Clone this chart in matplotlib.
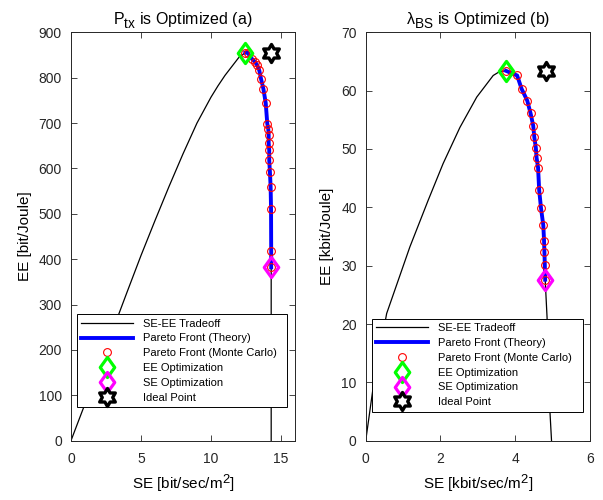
import matplotlib
matplotlib.use('Agg')
import numpy as np
import matplotlib.pyplot as plt
from matplotlib.path import Path

try:
    import matplotlib._mathtext as _mt
    _mt.SHRINK_FACTOR = 0.85
    _mt.FontConstantsBase.sub1 = 0.55
    _mt.FontConstantsBase.sub2 = 0.75
except Exception:
    pass

plt.rcParams['font.family'] = ['Liberation Sans', 'DejaVu Sans']
plt.rcParams['mathtext.fontset'] = 'custom'
plt.rcParams['mathtext.rm'] = 'Liberation Sans'
plt.rcParams['mathtext.it'] = 'Liberation Sans:italic'
plt.rcParams['mathtext.default'] = 'rm'

# ---------------- (a) P_tx optimized ----------------
se_a_curve = [0, 1, 2, 3, 4, 5, 6, 7, 8, 9, 10, 10.5, 11, 11.5, 12, 12.45,
              12.62, 12.91, 13.14, 13.31, 13.45, 13.57, 13.74, 13.91, 14.02,
              14.09, 14.12, 14.16, 14.21, 14.26, 14.29, 14.3, 14.3, 14.3]
ee_a_curve = [0, 81, 163, 245, 327, 408, 485, 560, 632, 700, 757, 782, 805,
              825, 845, 855, 853, 842, 835, 827, 816, 798, 776, 744, 699,
              688, 673, 640, 592, 559, 510, 419, 382, 0]
se_a_front = [12.45, 12.62, 12.91, 13.14, 13.31, 13.45, 13.57, 13.74, 13.91,
              14.02, 14.09, 14.12, 14.12, 14.16, 14.16, 14.21, 14.26, 14.29,
              14.3, 14.3]
ee_a_front = [855, 855, 842, 835, 827, 816, 798, 776, 744, 699, 688, 673,
              656, 640, 618, 592, 559, 510, 419, 382]
se_a_mc = se_a_front
ee_a_mc = ee_a_front
ee_opt_a = (12.45, 855)
se_opt_a = (14.3, 382)
ideal_a = (14.3, 855)

# ---------------- (b) lambda_BS optimized ----------------
se_b_curve = [0, 0.2, 0.56, 1.18, 1.67, 2.07, 2.52, 2.97, 3.41, 3.59, 3.75,
              4.05, 4.17, 4.32, 4.41, 4.48, 4.51, 4.55, 4.57, 4.61, 4.64,
              4.69, 4.75, 4.77, 4.78, 4.79, 4.80, 4.85, 4.93, 4.97]
ee_b_curve = [0, 9.2, 21.8, 33.2, 41.2, 47.5, 53.7, 58.9, 62.6, 63.3, 63.4,
              62.6, 60.3, 58.3, 56.1, 54.0, 52.0, 50.2, 48.5, 46.8, 42.9,
              39.8, 36.9, 34.3, 32.3, 30.2, 27.6, 21.2, 4.7, 0]
se_b_front = [3.75, 4.05, 4.17, 4.32, 4.41, 4.48, 4.51, 4.55, 4.57, 4.61,
              4.64, 4.69, 4.75, 4.77, 4.78, 4.79, 4.80]
ee_b_front = [63.4, 62.6, 60.3, 58.3, 56.1, 54.0, 52.0, 50.2, 48.5, 46.8,
              42.9, 39.8, 36.9, 34.3, 32.3, 30.2, 27.6]
se_b_mc = se_b_front
ee_b_mc = ee_b_front
ee_opt_b = (3.75, 63.4)
se_opt_b = (4.80, 27.6)
ideal_b = (4.82, 63.3)

labels = ['SE-EE Tradeoff', 'Pareto Front (Theory)', 'Pareto Front (Monte Carlo)',
          'EE Optimization', 'SE Optimization', 'Ideal Point']

# marker shapes
diamond = Path([(0, 1), (0.72, 0), (0, -1), (-0.72, 0), (0, 1)],
               [Path.MOVETO, Path.LINETO, Path.LINETO, Path.LINETO, Path.CLOSEPOLY])
_ang = np.deg2rad(90 + 30 * np.arange(12))
_rad = np.where(np.arange(12) % 2 == 0, 1.0, 1 / np.sqrt(3))
_verts = list(zip(_rad * np.cos(_ang), _rad * np.sin(_ang))) + [(0, 1)]
hexagram = Path(_verts, [Path.MOVETO] + [Path.LINETO] * 11 + [Path.CLOSEPOLY])

fig = plt.figure(figsize=(6.03, 5.0), dpi=100)
axA = fig.add_axes([0.1177, 0.1186, 0.3715, 0.8168])
axB = fig.add_axes([0.6065, 0.1186, 0.3720, 0.8168])


def draw(ax, se_c, ee_c, se_f, ee_f, se_m, ee_m, eeopt, seopt, ideal):
    h1, = ax.plot(se_c, ee_c, color='black', lw=0.9)
    h2, = ax.plot(se_f, ee_f, color='#0000ff', lw=2.8)
    h3, = ax.plot(se_m, ee_m, ls='none', marker='o', ms=5.6, mfc='none',
                  mec='#ff0000', mew=0.8)
    h4, = ax.plot([eeopt[0]], [eeopt[1]], ls='none', marker=diamond, ms=14.5,
                  mfc='none', mec='#00ff00', mew=2.3)
    h5, = ax.plot([seopt[0]], [seopt[1]], ls='none', marker=diamond, ms=14.5,
                  mfc='none', mec='#ff00ff', mew=2.3)
    h6, = ax.plot([ideal[0]], [ideal[1]], ls='none', marker=hexagram, ms=13,
                  mfc='white', mec='black', mew=2.4)
    return [h1, h2, h3, h4, h5, h6]


hA = draw(axA, se_a_curve, ee_a_curve, se_a_front, ee_a_front, se_a_mc, ee_a_mc,
          ee_opt_a, se_opt_a, ideal_a)
hB = draw(axB, se_b_curve, ee_b_curve, se_b_front, ee_b_front, se_b_mc, ee_b_mc,
          ee_opt_b, se_opt_b, ideal_b)

axA.set_xlim(0, 16)
axA.set_ylim(0, 900)
axA.set_xticks([0, 5, 10, 15])
axA.set_yticks(range(0, 901, 100))
axB.set_xlim(0, 6)
axB.set_ylim(0, 70)
axB.set_xticks([0, 2, 4, 6])
axB.set_yticks(range(0, 71, 10))

axA.set_title(r'P$_{\rm tx}$ is Optimized (a)', fontsize=11.5, pad=6)
axB.set_title(r'$\lambda_{\rm BS}$ is Optimized (b)', fontsize=11.5, pad=6)
axA.set_xlabel(r'SE [bit/sec/m$^2$]', fontsize=11, labelpad=5)
axA.set_ylabel('EE [bit/Joule]', fontsize=11, labelpad=5)
axB.set_xlabel(r'SE [kbit/sec/m$^2$]', fontsize=11, labelpad=5)
axB.set_ylabel('EE [kbit/Joule]', fontsize=11, labelpad=5)

for ax in (axA, axB):
    for s in ax.spines.values():
        s.set_color('#262626')
        s.set_linewidth(0.7)
    ax.tick_params(direction='in', top=True, right=True, length=4, width=0.6,
                   color='#262626', labelsize=10, labelcolor='#262626')
    ax.tick_params(axis='x', pad=8)
    ax.tick_params(axis='y', pad=6.5)

legA = axA.legend(hA, labels, loc='lower left',
                  bbox_to_anchor=(0.027, 0.0825, 0.937, 0.234), mode='expand',
                  fontsize=8, handlelength=4.6, labelspacing=0.43,
                  fancybox=False, framealpha=1, edgecolor='black',
                  borderpad=0.4, handletextpad=0.9, borderaxespad=0)
legB = axB.legend(hB, labels, loc='lower left',
                  bbox_to_anchor=(0.028, 0.071, 0.939, 0.234), mode='expand',
                  fontsize=8, handlelength=4.6, labelspacing=0.43,
                  fancybox=False, framealpha=1, edgecolor='black',
                  borderpad=0.4, handletextpad=0.9, borderaxespad=0)
for lg in (legA, legB):
    lg.get_frame().set_linewidth(0.7)

fig.savefig('out.png', dpi=100)
